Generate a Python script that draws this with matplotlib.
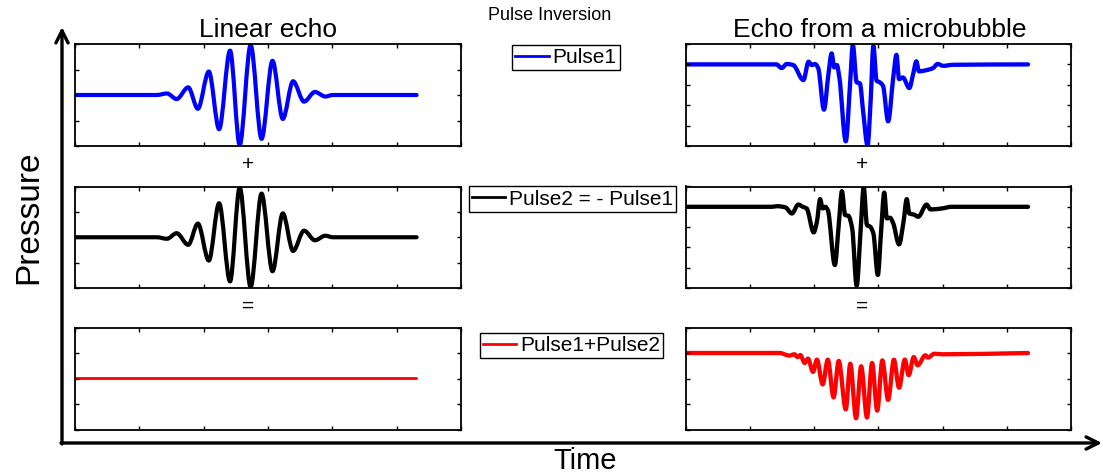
import numpy as np
import matplotlib
matplotlib.use('Agg')
import matplotlib.pyplot as plt
from matplotlib.path import Path
from matplotlib.patches import PathPatch
from matplotlib.lines import Line2D

plt.rcParams['font.family'] = ['Liberation Sans', 'DejaVu Sans']

#-- linear echo (Pulse1), time in tick units --
lin_t = [0, 1.27, 1.43, 1.58, 1.76, 1.91, 2.08, 2.24, 2.41, 2.56, 2.73, 2.90,
         3.07, 3.23, 3.39, 3.56, 3.73, 3.89, 4.01, 5.31]
lin_p1 = [0, 0, 0.03, -0.08, 0.15, -0.27, 0.46, -0.67, 0.87, -0.98, 0.98, -0.86,
          0.67, -0.47, 0.27, -0.13, 0.06, -0.03, 0, 0]
lin_p2 = [-v for v in lin_p1]                       # Pulse2 = - Pulse1
lin_sum = [a + b for a, b in zip(lin_p1, lin_p2)]   # Pulse1 + Pulse2

#-- microbubble echo, Pulse1 --
mb1_t = [0, 1.41, 1.49, 1.57, 1.67, 1.83, 1.91, 1.96, 2.01, 2.06, 2.15, 2.22,
         2.27, 2.31, 2.35, 2.39, 2.49, 2.56, 2.60, 2.66, 2.71, 2.76, 2.83, 2.88,
         2.92, 2.97, 3.02, 3.07, 3.15, 3.23, 3.28, 3.32, 3.38, 3.48, 3.54, 3.59,
         3.63, 3.75, 3.85, 3.92, 4.01, 4.16, 5.33]
mb1_p = [0, 0, -0.18, 0.02, -0.03, -0.77, 0.13, -0.03, 0.02, -0.18, -2.22, -0.47,
         0.54, -0.15, -0.03, -0.64, -3.77, -0.80, 0.96, -0.88, -0.93, -2.29, -3.98, -1.62,
         0.92, -0.80, -0.88, -1.05, -2.79, -0.64, 0.47, -0.72, -0.64, -1.16, -0.47, 0.15,
         -0.34, -0.28, -0.18, 0.02, -0.07, -0.02, 0]

#-- microbubble echo, Pulse2 --
mb2_t = [0, 1.34, 1.42, 1.55, 1.65, 1.75, 1.82, 1.88, 1.99, 2.04, 2.09, 2.13,
         2.17, 2.21, 2.32, 2.38, 2.43, 2.48, 2.53, 2.59, 2.66, 2.72, 2.77, 2.82,
         2.87, 2.92, 2.99, 3.04, 3.09, 3.13, 3.18, 3.23, 3.32, 3.39, 3.44, 3.48,
         3.55, 3.62, 3.75, 3.81, 3.99, 4.14, 5.33]
mb2_p = [0, 0, 0.03, -0.03, -0.33, 0.11, 0, -0.08, -1.26, -0.74, 0.38, -0.08,
         0, -0.16, -2.87, -0.90, 0.77, -0.41, -0.44, -1.07, -3.89, -1.23, 0.98, -0.90,
         -0.98, -1.31, -3.36, -1.23, 0.70, -0.57, -0.54, -0.82, -1.85, -0.74, 0.38, -0.33,
         -0.38, -0.49, 0.11, -0.13, -0.08, 0, 0]

#-- microbubble echo, Pulse1+Pulse2 --
mbs_t = [0, 1.46, 1.61, 1.69, 1.74, 1.78, 1.85, 1.90, 1.98, 2.04, 2.13, 2.21,
         2.30, 2.38, 2.49, 2.56, 2.65, 2.73, 2.82, 2.90, 2.98, 3.06, 3.15, 3.24,
         3.32, 3.41, 3.47, 3.55, 3.61, 3.73, 3.77, 3.87, 4.00, 5.33]
mbs_p = [0, 0, -0.10, -0.05, -0.16, -0.08, -0.39, -0.22, -0.74, -0.26, -1.23, -0.26,
         -1.74, -0.31, -2.21, -0.42, -2.56, -0.52, -2.53, -0.39, -2.26, -0.29, -1.84, -0.26,
         -1.36, -0.26, -0.87, -0.16, -0.48, -0.09, -0.18, -0.03, -0.05, 0]

labels = ['Pulse1', 'Pulse2 = - Pulse1', 'Pulse1+Pulse2']
colors = ['b', 'k', 'r']


def smooth_path(t, p):
    # smooth (shape preserving) bezier path through the read points
    x = np.asarray(t, float)
    y = np.asarray(p, float)
    h = np.diff(x)
    d = np.diff(y) / h
    m = np.zeros_like(y)
    m[0], m[-1] = d[0], d[-1]
    for k in range(1, len(y) - 1):
        if d[k-1] * d[k] > 0:
            w1 = 2*h[k] + h[k-1]
            w2 = h[k] + 2*h[k-1]
            m[k] = (w1 + w2) / (w1/d[k-1] + w2/d[k])
    verts = [(x[0], y[0])]
    codes = [Path.MOVETO]
    for k in range(len(h)):
        verts += [(x[k] + h[k]/3, y[k] + m[k]*h[k]/3),
                  (x[k+1] - h[k]/3, y[k+1] - m[k+1]*h[k]/3),
                  (x[k+1], y[k+1])]
        codes += [Path.CURVE4]*3
    return Path(verts, codes)


W, H = 1103., 476.
fig = plt.figure(figsize=(W/100, H/100), dpi=100)

#-- background axes in pixel coords for arrows/labels --
axb = fig.add_axes([0, 0, 1, 1])
axb.set_xlim(0, W)
axb.set_ylim(H, 0)
axb.axis('off')
axb.annotate('', xy=(62, 27), xytext=(62, 444),
             arrowprops=dict(arrowstyle='->', lw=2.4, color='k', mutation_scale=22,
                             shrinkA=0, shrinkB=0))
axb.annotate('', xy=(1102, 443), xytext=(61, 443),
             arrowprops=dict(arrowstyle='->', lw=2.4, color='k', mutation_scale=22,
                             shrinkA=0, shrinkB=0))
axb.text(29, 217, 'Pressure', rotation=90, ha='center', va='center', fontsize=24)
axb.text(585, 469, 'Time', ha='center', va='baseline', fontsize=21)
axb.text(550, 15, 'Pulse Inversion', ha='center', va='center', fontsize=13)
axb.text(268, 30, 'Linear echo', ha='center', va='center', fontsize=19)
axb.text(880, 30, 'Echo from a microbubble', ha='center', va='center', fontsize=19)
for xx in [248, 862]:
    axb.text(xx, 164, '+', ha='center', va='center', fontsize=15)
    axb.text(xx, 306, '=', ha='center', va='center', fontsize=15)

#-- panel positions (pixels) --
col_x = [(75, 461), (686, 1071)]
row_y = [(44, 146), (186.5, 288), (327.5, 429.5)]


def pix2fig(x0, x1, y0, y1):
    return [x0/W, 1 - y1/H, (x1 - x0)/W, (y1 - y0)/H]


left_data = [(lin_t, lin_p1), (lin_t, lin_p2), (lin_t, lin_sum)]
right_data = [(mb1_t, mb1_p), (mb2_t, mb2_p), (mbs_t, mbs_p)]
right_ylim = [(-4, 1), (-4, 1), (-3, 1)]
leg_center = [(566, 57.5), (572.5, 199), (571.5, 345.5)]

for i in range(3):
    y0, y1 = row_y[i]
    #- linear -
    ax = fig.add_axes(pix2fig(col_x[0][0], col_x[0][1], y0, y1))
    lw = 2.0 if i == 2 else 3.0
    ax.add_patch(PathPatch(smooth_path(*left_data[i]), fill=False, edgecolor=colors[i],
                           lw=lw, joinstyle='round', capstyle='round'))
    ax.set_xlim(0, 6)
    ax.set_ylim(-1, 1)
    ax.set_xticks(np.arange(0, 7))
    ax.set_yticks([-1, -0.5, 0, 0.5, 1])
    #- microbubble -
    ax2 = fig.add_axes(pix2fig(col_x[1][0], col_x[1][1], y0, y1))
    ax2.add_patch(PathPatch(smooth_path(*right_data[i]), fill=False, edgecolor=colors[i],
                            lw=3.1, joinstyle='round', capstyle='round'))
    ax2.set_xlim(0, 6)
    ax2.set_ylim(*right_ylim[i])
    ax2.set_xticks(np.arange(0, 7))
    ax2.set_yticks(np.arange(right_ylim[i][0], right_ylim[i][1] + 1))
    for a in [ax, ax2]:
        a.tick_params(direction='in', length=3, width=1, top=True, right=True,
                      labelbottom=False, labelleft=False)
        for s in a.spines.values():
            s.set_linewidth(1.3)
    #- legend -
    ln = Line2D([], [], color=colors[i], lw=2.0, label=labels[i])
    cx, cy = leg_center[i]
    leg = fig.legend(handles=[ln], loc='center', bbox_to_anchor=(cx/W, 1 - cy/H),
                     fontsize=15, frameon=True, fancybox=False, framealpha=1,
                     edgecolor='k', handlelength=1.6, handletextpad=0.2,
                     borderpad=0.15, borderaxespad=0)
    leg.get_frame().set_linewidth(1.0)

fig.savefig('out.png', dpi=100)
